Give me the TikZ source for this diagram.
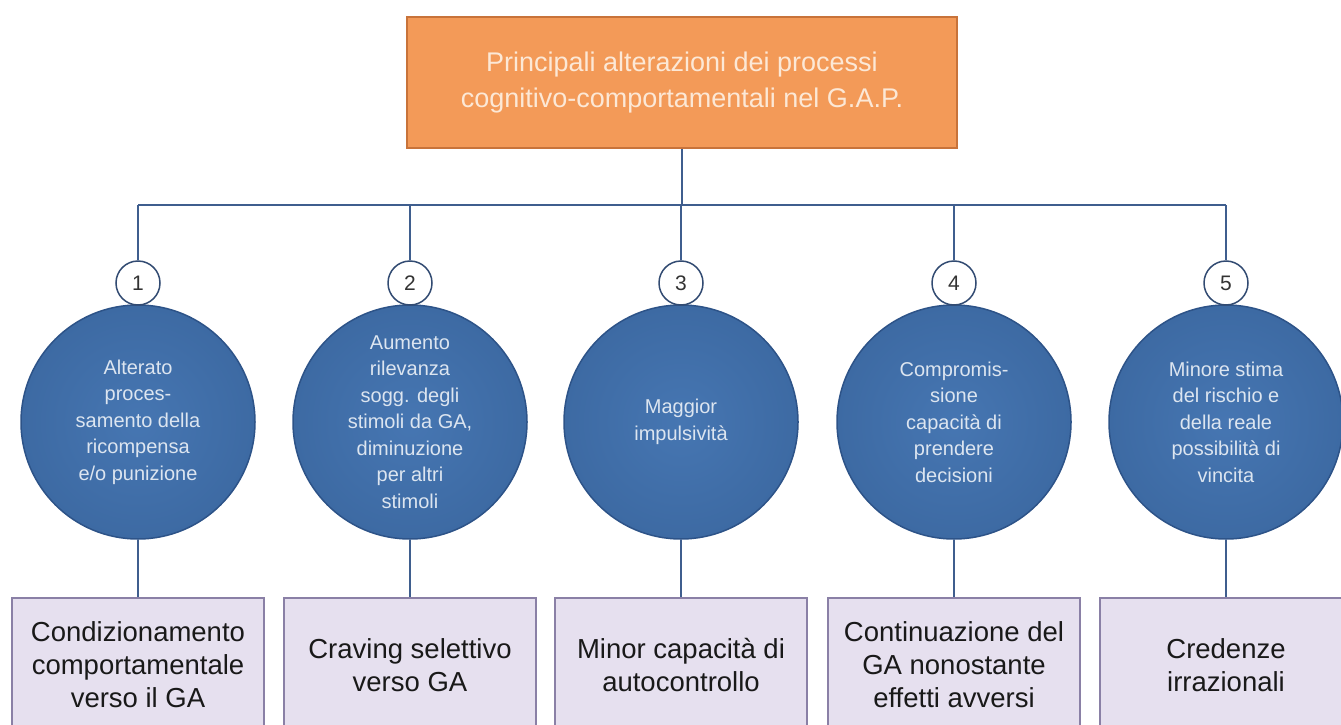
\documentclass[tikz,border=0pt]{standalone}
\usepackage{fontspec}
\setmainfont{Liberation Sans}
\usetikzlibrary{calc}
\definecolor{gapOrange}{HTML}{F39A58}
\definecolor{gapOrangeEdge}{HTML}{C8733A}
\definecolor{gapOrangeText}{HTML}{FCE8D6}
\definecolor{gapBlue}{HTML}{3D6AA3}
\definecolor{gapBlueLight}{HTML}{4676B2}
\definecolor{gapBlueEdge}{HTML}{2D5388}
\definecolor{gapBlueText}{HTML}{DCE5F0}
\definecolor{gapLine}{HTML}{3F5E8E}
\definecolor{gapLilac}{HTML}{E6E0EF}
\definecolor{gapLilacEdge}{HTML}{8A80A6}
\tikzset{
  titlebox/.style={rectangle,fill=gapOrange,draw=gapOrangeEdge,line width=1.5pt,
    minimum width=550pt,minimum height=131pt,align=center,text=gapOrangeText,
    font=\fontsize{27}{36}\selectfont},
  numdot/.style={circle,fill=white,draw=gapLine!80!black,line width=1.5pt,
    minimum size=44pt,inner sep=0pt,font=\fontsize{21}{24}\selectfont,text=black!80},
  bigdot/.style={circle,inner color=gapBlueLight,outer color=gapBlue,draw=gapBlueEdge,
    line width=1.5pt,minimum size=234pt,inner sep=0pt,align=center,text=gapBlueText,
    font=\fontsize{20}{26.5}\selectfont},
  resbox/.style={rectangle,fill=gapLilac,draw=gapLilacEdge,line width=1.5pt,
    minimum width=252pt,minimum height=134pt,align=center,text=black!90,
    font=\fontsize{27.5}{33}\selectfont},
  link/.style={draw=gapLine,line width=2pt}
}

\begin{document}
\begin{tikzpicture}[x=1pt,y=-1pt]
\useasboundingbox (0,0) rectangle (1341,725);
\clip (0,0) rectangle (1341,725);

% title
\node[titlebox] (title) at (682,82.5) {Principali alterazioni dei processi\\cognitivo-comportamentali nel G.A.P.};

% bus line
\coordinate (busL) at (138,205);
\coordinate (busR) at (1226,205);
\draw[link] (busL) -- (busR);
\draw[link] (title.south) -- (title.south |- busL);

% blue circles
\node[bigdot] (circ1) at (138,422) {Alterato\\proces-\\samento della\\ricompensa\\e/o punizione};
\node[bigdot] (circ2) at (410,422) {Aumento\\rilevanza\\sogg. degli\\stimoli da GA,\\diminuzione\\per altri\\stimoli};
\node[bigdot] (circ3) at (681,422) {Maggior\\impulsività};
\node[bigdot] (circ4) at (954,422) {Compromis-\\sione\\capacità di\\prendere\\decisioni};
\node[bigdot] (circ5) at (1226,422) {Minore stima\\del rischio e\\della reale\\possibilità di\\vincita};

% numbers
\foreach \i in {1,...,5}
  \node[numdot] (num\i) at ($(circ\i)+(0,-139)$) {\i};

% result boxes
\node[resbox] (res1) at (138,665) {Condizionamento\\comportamentale\\verso il GA};
\node[resbox] (res2) at (410,665) {Craving selettivo\\verso GA};
\node[resbox] (res3) at (681,665) {Minor capacità di\\autocontrollo};
\node[resbox] (res4) at (954,665) {Continuazione del\\GA nonostante\\effetti avversi};
\node[resbox] (res5) at (1226,665) {Credenze\\irrazionali};

% connectors
\foreach \i in {1,...,5} {
  \draw[link] (num\i |- busL) -- (num\i);
  \draw[link] (circ\i) -- (res\i);
}
\end{tikzpicture}
\end{document}
